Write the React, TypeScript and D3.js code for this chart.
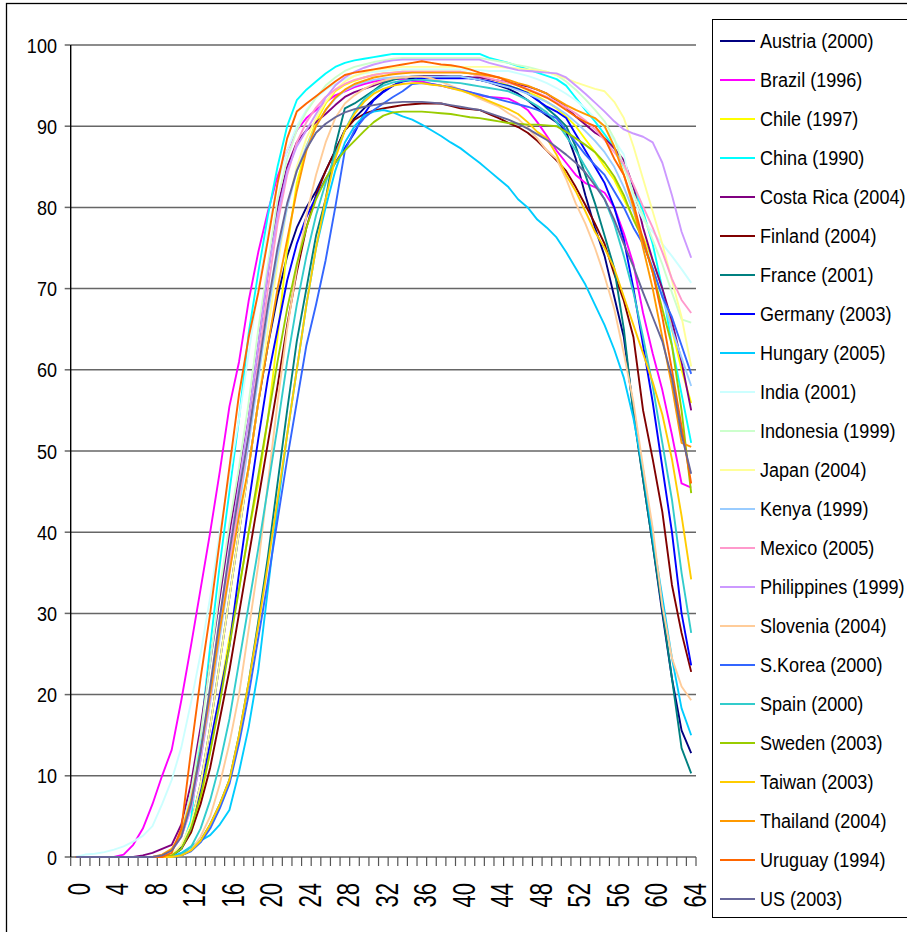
import React from "react";
import * as d3 from "d3";

// ---------- data ----------
const ages: number[] = d3.range(0, 65);
const xTickLabels: number[] = [0, 4, 8, 12, 16, 20, 24, 28, 32, 36, 40, 44, 48, 52, 56, 60, 64];
const yTicks: number[] = [0, 10, 20, 30, 40, 50, 60, 70, 80, 90, 100];

const austria = [0,0,0,0,0,0,0,0,0,0, 0.2,1.2,4,9,16,24,32,40,48,56, 63,69,74,77.5,80,82,84.5,87,89.5,91, 92.2,93.3,94.3,95,95.6,95.9,96.1,96.1,96.1,96.1, 96.1,96,95.7,95.4,95,94.6,94,93.2,92.2,91.3, 90.5,89.3,86,81.5,77.5,74,69,64,55,46.5, 38.5,30,22,15.6,12.8];
const brazil = [0,0,0,0,0,0.3,1.5,3.5,6.5,10, 13.2,19.3,26,33,40,47.5,55.5,61,68.5,74.5, 79.5,83.8,87,89.5,91,92,93,93.8,94.3,94.8, 95.2,95.5,95.7,95.8,95.8,95.6,95.5,95.2,95,94.7, 94.5,94.2,93.8,93.6,93.5,93.4,92.8,92,90.5,88.8, 87,85.5,84,83,82.5,81.8,80,76.8,73,67, 62,57.5,52,46,45.5];
const chile = [0,0,0,0,0,0,0,0,0,0, 0.2,1,3,7,13,20,27,33,40,46, 54,64,75,83,87.5,90.5,92.8,94.3,95.1,95.6, 96,96.3,96.5,96.6,96.7,96.7,96.7,96.7,96.7,96.7, 96.7,96.5,96.2,95.9,95.5,95,94.6,94.2,93.7,93, 92.2,91.2,90,88.4,86.8,85,83.4,81,78.7,76.3, 73.5,70,65,60,55.9];
const china = [0,0,0,0,0,0,0,0,0,0, 0,1,4.5,15,26,36,45,54,64.5,72, 79,85,90,93.2,94.5,95.5,96.5,97.3,97.8,98.1, 98.3,98.5,98.7,98.9,98.9,98.9,98.9,98.9,98.9,98.9, 98.9,98.9,98.9,98.4,98.1,97.8,97.4,97,96.6,96.2, 95.8,95,93.5,92,90.6,89,87.3,85,82.5,79.5, 75.5,70,63,57,51];
const costaRica = [0,0,0,0,0,0,0,0.2,0.5,1, 1.5,4,9,16,24,32,40,47,54,63, 72,80,85,88,89.5,90.5,91.5,92.6,93.6,94.2, 94.6,95,95.5,95.8,96,96.1,96.2,96.2,96.2,96.1, 96.1,96,96,95.8,95.6,95.4,95.1,94.9,94.5,94, 93.2,92.3,91.2,90.2,89.2,88.5,87.3,85.8,82.5,77.5, 73.5,70,66,61,55];
const finland = [0,0,0,0,0,0,0,0,0,0, 0.2,1,3,6.5,11,17,23,30,37,44, 51,58,65.5,72,77.5,81.5,84.5,87,89.5,90.8, 91.5,91.9,92.2,92.4,92.6,92.7,92.8,92.8,92.8,92.5, 92.2,92.1,92,91.5,91,90.4,89.9,89.2,88.2,87, 85.8,84.5,82.5,80.3,78,75.5,71.8,68.5,64,55, 49,42.5,33.5,27.6,22.8];
const france = [0,0,0,0,0,0,0,0,0,0, 0,0.2,0.8,2,4,6.5,9.5,15,21.5,29, 37,46,55,63.5,70,76.5,81,87.5,92.2,92.8, 93.6,94.4,95.3,95.7,96,96.1,96.1,96.1,96.1,96.1, 96.1,95.9,95.7,95.5,95.2,95,94.6,94,93.3,92.2, 91.2,90,87.5,84,80.5,76.5,72.5,65,54.5,46.5, 38.5,30.5,22,13.4,10.3];
const germany = [0,0,0,0,0,0,0,0,0,0, 0.2,1,3.5,8,14,20,26,35,43.5,51.5, 59,65,71,75.5,78.8,81.3,83.5,85.5,87.3,89.2, 91.5,93.2,94.2,95,95.5,95.7,95.9,95.9,95.9,95.9, 95.9,95.9,95.7,95.5,95.2,94.9,94.5,94.1,93.2,92.4, 91.8,91,89,87,85,83,80,76,70,63, 56,48,40,30,23.6];
const hungary = [0,0,0,0,0,0,0,0,0,0, 0,0.5,1.3,2,2.7,4,5.8,10.5,16,23, 33,43,52,60,68,75,80,84.5,88,90, 91.3,91.8,92,91.7,91.2,90.8,90.2,89.5,88.8,88, 87.3,86.4,85.5,84.5,83.5,82.5,81,80,78.5,77.5, 76.3,74.5,72.5,70.5,68,65.5,62.5,59,54,47.7, 39.4,32,24.5,18.3,15];
const india = [0,0.3,0.4,0.6,0.9,1.3,1.9,2.6,3.8,6.5, 9.5,13.5,19,25,32,40,47,54,62,70, 77,83,87,90,92,93.5,94.5,95.2,95.8,96.2, 96.5,96.7,96.8,96.9,97,97,97,97,97,97, 97,96.9,96.9,96.8,96.8,96.8,96.5,96.2,95.8,95.3, 94.7,94,93.2,92.2,91,89.8,88.3,86.5,81,78.5, 77,75.5,74,72.4,70.7];
const indonesia = [0,0,0,0,0,0,0,0,0,0.2, 0.8,3,8,15,24,33,41,48,56,65, 73,81,86,89.5,91.8,93.5,95,96,96.8,97.3, 97.6,97.9,98.1,98.3,98.4,98.4,98.4,98.4,98.4,98.4, 98.4,98.4,98.4,98.2,98,97.8,97.5,97.3,97,96.7, 96.3,95.5,94.5,93.3,92,90.6,88.5,85,81.7,79, 76,73,69.5,66.2,65.8];
const japan = [0,0,0,0,0,0,0,0,0,0, 0.3,1.5,4,9,16,24,32,40,48,56, 65,73,80,85,88.5,91,93,94.5,95.5,96.2, 96.6,96.9,97.1,97.2,97.3,97.3,97.3,97.3,97.3,97.3, 97.3,97.3,97.3,97.3,97.3,97.2,97.1,97,96.9,96.7, 96.3,95.9,95.4,95,94.6,94.3,93,91,87.5,83.5, 79.5,75.5,71,66.5,60.4];
const kenya = [0,0,0,0,0,0,0,0,0,0.2, 0.8,2.5,6,12,19,27,35,43,51,59, 67,74,80,84.5,87.5,90,92,93.4,94.4,95, 95.4,95.7,95.9,96,96.1,96.1,96.1,96.1,96.1,96.1, 96.1,95.9,95.7,95.4,95.1,94.8,94.4,94,93.5,93, 92.3,91.5,90.5,89.4,88.2,86.8,85,82.5,79.5,76, 72.5,69,65,61.5,58];
const mexico = [0,0,0,0,0,0,0,0,0,0.2, 0.8,2.5,6,12,19.5,28,36,44,52,61, 70,78,84,88,90.5,92.3,93.6,94.5,95.2,95.7, 96,96.3,96.5,96.6,96.7,96.7,96.7,96.7,96.7,96.7, 96.7,96.5,96.2,95.9,95.6,95.3,95,94.6,94.1,93.6, 93,92.3,91.6,90.7,89.6,88.3,86.8,85.3,82.8,80.1, 77.5,74.5,71.2,68.6,67];
const philippines = [0,0,0,0,0,0,0,0,0,0.2, 0.8,2.5,6,12,20,29,38,46,54,63, 72,79,84.5,87.5,89.5,91.5,93.5,95,96,96.7, 97.2,97.6,97.9,98.1,98.2,98.2,98.2,98.2,98.2,98.2, 98.2,98.2,98.2,97.8,97.5,97.2,96.9,96.8,96.7,96.6, 96.5,96,95,94,92.9,91.8,90.6,89.6,89.1,88.7, 88,85.5,81.5,77,73.8];
const slovenia = [0,0,0,0,0,0,0,0,0,0, 0,0.2,0.8,2.5,5,9,14,20,28,36, 46,56,65,72.5,79,84,88,91,92.8,93.8, 94.6,95.2,95.6,95.9,96,96.1,96.1,95.9,95.5,95, 94.5,94,93.4,92.9,92.4,91.6,90.9,89.8,88.5,87, 86,83.5,80.5,78,75,71.5,67.5,62,56,48, 40.5,31,24.5,21,19.3];
const sKorea = [0,0,0,0,0,0,0,0,0,0, 0,0.2,0.7,1.8,3.5,6,9,14,20,27, 34,41.5,49,56,63,68,73.5,80,87,89.5, 91,92,92.8,93.6,94.3,95.2,95.3,95.2,95,94.8, 94.5,94.2,93.9,93.6,93.3,93,92.7,92.4,92,91.5, 91,89.5,88,86.5,85.2,84,82,80,77.5,75.5, 72.5,69,66.5,63,59.5];
const spain = [0,0,0,0,0,0,0,0,0,0, 0,0.3,1.2,3.5,7,11.5,17,24,31,38, 45.5,53,61,68,74,79,83,86.5,89.5,91.8, 93.3,94.3,95,95.4,95.6,95.7,95.7,95.6,95.5,95.4, 95.3,95.1,94.9,94.7,94.5,94.3,93.8,93.2,92.5,91.7, 90.5,88.8,87,85,83,81,78,74,69.5,64, 58,51,44,35,27.6];
const sweden = [0,0,0,0,0,0,0,0,0,0, 0.2,1,3.5,7.5,13,19,26,33,40,47, 54,61,67.5,73,77.5,81,83.5,85.5,87,88.2, 89.4,90.5,91.3,91.7,91.8,91.8,91.8,91.7,91.6,91.5, 91.3,91.1,91,90.8,90.6,90.4,90.3,90.2,90.2,90.1, 90,89.3,88.5,87.7,86.8,85.5,83.8,81.5,78.5,76, 72,67.5,63,55,44.8];
const taiwan = [0,0,0,0,0,0,0,0,0,0, 0,0.2,0.8,2,4,6.5,9.5,15,21.5,28.5, 36,44,52,60,68,75,81,86,89.5,91.5, 93,94,94.6,95,95.2,95.3,95.3,95.1,95,94.7, 94.4,94,93.6,93.1,92.6,92.1,91.5,90.5,89.3,88.5, 86.5,84,82,79.5,77,75,72.5,69,65.5,62, 58.5,54.5,49,42,34.2];
const thailand = [0,0,0,0,0,0,0,0,0,0.3, 1,3,7,13,20,28,35,42,48,56, 63,70,76,82,87,90,92,93.5,94.5,95.2, 95.6,96,96.2,96.4,96.5,96.6,96.6,96.6,96.6,96.6, 96.6,96.5,96.4,96.2,96,95.7,95.3,95,94.5,94, 93.3,92.6,92,91.5,91,90,87.5,84,80,75, 70,64,58,51,50.5];
const uruguay = [0,0,0,0,0,0,0,0,0,0, 0.5,3.5,13,22,30,39,48,57,64,69.5, 76,83,88.5,91.8,92.8,93.7,94.6,95.5,96.3,96.6, 96.8,97,97.2,97.4,97.6,97.8,98,97.8,97.6,97.5, 97.3,97,96.6,96.3,96,95.5,95,94.5,94,93.5, 92.8,92,91.2,90.5,90,88.5,86,84,80.5,76, 72,66.5,60,53,46];
const us = [0,0,0,0,0,0,0,0,0,0.2, 0.8,2.5,6.5,13,21,29.5,37.5,45,52,60, 68,75,80.5,84.5,87.2,89.2,90.3,91.1,91.7,92.1, 92.4,92.6,92.8,92.9,93,93,93,92.9,92.8,92.6, 92.4,92.2,92,91.6,91.2,90.8,90.3,89.7,89,88.3, 87.4,86.5,85.5,84.3,82.7,81,78.5,75.5,72.7,69.5, 66.5,63.5,59,52,47.2];

const seriesNames = [
  "Austria (2000)", "Brazil (1996)", "Chile (1997)", "China (1990)", "Costa Rica (2004)",
  "Finland (2004)", "France (2001)", "Germany (2003)", "Hungary (2005)", "India (2001)",
  "Indonesia (1999)", "Japan (2004)", "Kenya (1999)", "Mexico (2005)", "Philippines (1999)",
  "Slovenia (2004)", "S.Korea (2000)", "Spain (2000)", "Sweden (2003)", "Taiwan (2003)",
  "Thailand (2004)", "Uruguay (1994)", "US (2003)",
];
const seriesColors = [
  "#000080", "#FF00FF", "#FFFF00", "#00FFFF", "#800080",
  "#800000", "#008080", "#0000FF", "#00CCFF", "#CCFFFF",
  "#CCFFCC", "#FFFF99", "#99CCFF", "#FF99CC", "#CC99FF",
  "#FFCC99", "#3366FF", "#33CCCC", "#99CC00", "#FFCC00",
  "#FF9900", "#FF6600", "#666699",
];
const seriesValues = [
  austria, brazil, chile, china, costaRica, finland, france, germany, hungary, india,
  indonesia, japan, kenya, mexico, philippines, slovenia, sKorea, spain, sweden, taiwan,
  thailand, uruguay, us,
];

const FONT = "'Liberation Sans', Arial, Helvetica, sans-serif";

export default function App() {
  const W = 907;
  const H = 932;
  const left = 70.7;
  const right = 696;
  const top = 45;
  const bottom = 857;

  const x = d3.scalePoint<number>().domain(ages).range([left, right]).padding(0.5);
  const y = d3.scaleLinear().domain([0, 100]).range([bottom, top]);
  const step = x.step();

  const line = d3
    .line<number>()
    .x((_, i) => x(ages[i]) as number)
    .y((v) => y(v));

  const boundaries = d3.range(0, ages.length + 1).map((i) => left + i * step);

  const legendX = 712.5;
  const legendY = 19.5;
  const rowH = 39;

  return (
    <svg
      width={W}
      height={H}
      style={{ position: "absolute", left: 0, top: 0, background: "#fff" }}
      fontFamily={FONT}
    >
      <rect x={0} y={0} width={W} height={H} fill="#fff" />
      {/* outer chart border */}
      <rect x={6.5} y={3.5} width={960} height={960} fill="none" stroke="#000" strokeWidth={1.3} />

      {/* gridlines */}
      {yTicks.map((t) => (
        <line key={"g" + t} x1={left} x2={right} y1={y(t)} y2={y(t)} stroke="#666" strokeWidth={1.5} />
      ))}
      {/* y ticks */}
      {yTicks.map((t) => (
        <line key={"yt" + t} x1={left - 6} x2={left} y1={y(t)} y2={y(t)} stroke="#666" strokeWidth={1.5} />
      ))}
      {/* x ticks */}
      {boundaries.map((bx, i) => (
        <line key={"xt" + i} x1={bx} x2={bx} y1={bottom} y2={bottom + 9} stroke="#555" strokeWidth={1.2} />
      ))}
      {/* y axis */}
      <line x1={left} x2={left} y1={top} y2={bottom} stroke="#000" strokeWidth={1.4} />

      {/* series */}
      {seriesValues.map((vals, si) => (
        <path
          key={"s" + si}
          d={line(vals) || ""}
          fill="none"
          stroke={seriesColors[si]}
          strokeWidth={1.9}
          strokeLinejoin="round"
        />
      ))}

      {/* y labels */}
      {yTicks.map((t) => (
        <g key={"yl" + t} transform={`translate(57,${y(t) + 7.5}) scale(0.86,1)`}>
          <text x={0} y={0} textAnchor="end" fontSize={21} fill="#000">
            {t}
          </text>
        </g>
      ))}

      {/* x labels (rotated) */}
      {xTickLabels.map((a) => (
        <g key={"xl" + a} transform={`translate(${(x(a) as number) + 14.5},883) rotate(-90) scale(1,1.4)`}>
          <text x={0} y={0} textAnchor="end" fontSize={22} fill="#000">
            {a}
          </text>
        </g>
      ))}

      {/* legend */}
      <rect x={legendX} y={legendY} width={260} height={898} fill="#fff" stroke="#000" strokeWidth={1} />
      {seriesNames.map((name, i) => {
        const ly = 41 + i * rowH;
        return (
          <g key={"lg" + i}>
            <line x1={720} x2={755} y1={ly} y2={ly} stroke={seriesColors[i]} strokeWidth={2} />
            <g transform={`translate(760,${ly + 6.5}) scale(0.86,1)`}>
              <text x={0} y={0} fontSize={21} fill="#000">
                {name}
              </text>
            </g>
          </g>
        );
      })}
    </svg>
  );
}
